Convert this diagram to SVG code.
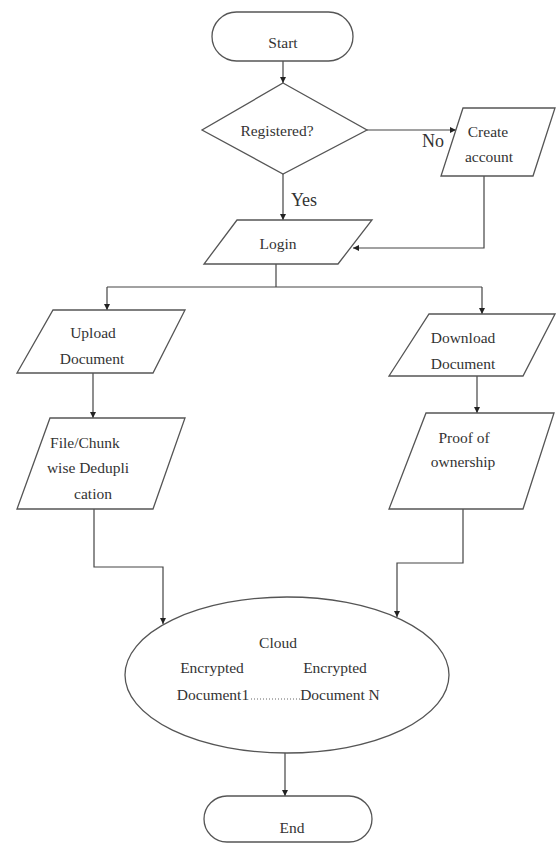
<svg xmlns="http://www.w3.org/2000/svg" width="556" height="843" viewBox="0 0 556 843">
<defs>
<marker id="arr" viewBox="0 0 10 10" refX="10" refY="5" markerWidth="6" markerHeight="6" orient="auto" markerUnits="userSpaceOnUse">
<path d="M0,0 L10,5 L0,10 z" fill="#222"/>
</marker>
<style>
.shape{fill:#fff;stroke:#555;stroke-width:1.3}
.conn{fill:none;stroke:#444;stroke-width:1.2}
text{font-family:"Liberation Serif","Times New Roman",serif;font-size:15.5px;fill:#333;text-anchor:middle}
.lbl{font-size:18px}
.dots{fill:none;stroke:#666;stroke-width:1;stroke-dasharray:1 2}
</style>
</defs>
<rect width="556" height="843" fill="#fff"/>
<g id="connectors">
<path class="conn" d="M283,61 L283,83" marker-end="url(#arr)"/>
<path class="conn" d="M367,130 L456,130" marker-end="url(#arr)"/>
<path class="conn" d="M283,174 L283,220" marker-end="url(#arr)"/>
<path class="conn" d="M484,176 L484,248 L353,248" marker-end="url(#arr)"/>
<path class="conn" d="M276,264 L276,287"/>
<path class="conn" d="M107,287 L482,287"/>
<path class="conn" d="M107,287 L107,310" marker-end="url(#arr)"/>
<path class="conn" d="M482,287 L482,314" marker-end="url(#arr)"/>
<path class="conn" d="M93,373 L93,418" marker-end="url(#arr)"/>
<path class="conn" d="M477,376 L477,413" marker-end="url(#arr)"/>
<path class="conn" d="M94,509 L94,567 L163,567 L163,624" marker-end="url(#arr)"/>
<path class="conn" d="M463,509 L463,563 L397,563 L397,617" marker-end="url(#arr)"/>
<path class="conn" d="M285,753 L285,796" marker-end="url(#arr)"/>
<text class="lbl" x="433" y="147">No</text>
<text class="lbl" x="304" y="206">Yes</text>
</g>
<g id="start">
<rect class="shape" x="212" y="12" width="141" height="49" rx="24.5"/>
<text x="283" y="48">Start</text>
</g>
<g id="registered">
<polygon class="shape" points="283,83 367,130 283,174 202,130"/>
<text x="277" y="136">Registered?</text>
</g>
<g id="create-account">
<polygon class="shape" points="463,108 555,108 533,176 441,176"/>
<text x="488" y="137">Create</text>
<text x="489" y="162">account</text>
</g>
<g id="login">
<polygon class="shape" points="237,220 372,220 338,264 204,264"/>
<text x="278" y="249">Login</text>
</g>
<g id="upload">
<polygon class="shape" points="53,310 185,310 153,373 17,373"/>
<text x="93" y="338">Upload</text>
<text x="92" y="364">Document</text>
</g>
<g id="download">
<polygon class="shape" points="429,314 555,314 523,376 389,376"/>
<text x="463" y="343">Download</text>
<text x="463" y="369">Document</text>
</g>
<g id="dedup">
<polygon class="shape" points="50,418 185,418 153,509 17,509"/>
<text x="85" y="448">File/Chunk</text>
<text x="88" y="473">wise Dedupli</text>
<text x="93" y="499">cation</text>
</g>
<g id="proof">
<polygon class="shape" points="426,413 554,413 523,509 389,509"/>
<text x="464" y="443">Proof of</text>
<text x="463" y="467">ownership</text>
</g>
<g id="cloud">
<ellipse class="shape" cx="287" cy="675" rx="162" ry="78"/>
<text x="278" y="648">Cloud</text>
<text x="212" y="673">Encrypted</text>
<text x="335" y="673">Encrypted</text>
<text x="213" y="700">Document1</text>
<line class="dots" x1="251" y1="699" x2="300" y2="699"/>
<text x="340" y="700">Document N</text>
</g>
<g id="end">
<rect class="shape" x="204" y="796" width="168" height="46" rx="23"/>
<text x="292" y="833">End</text>
</g>
</svg>
